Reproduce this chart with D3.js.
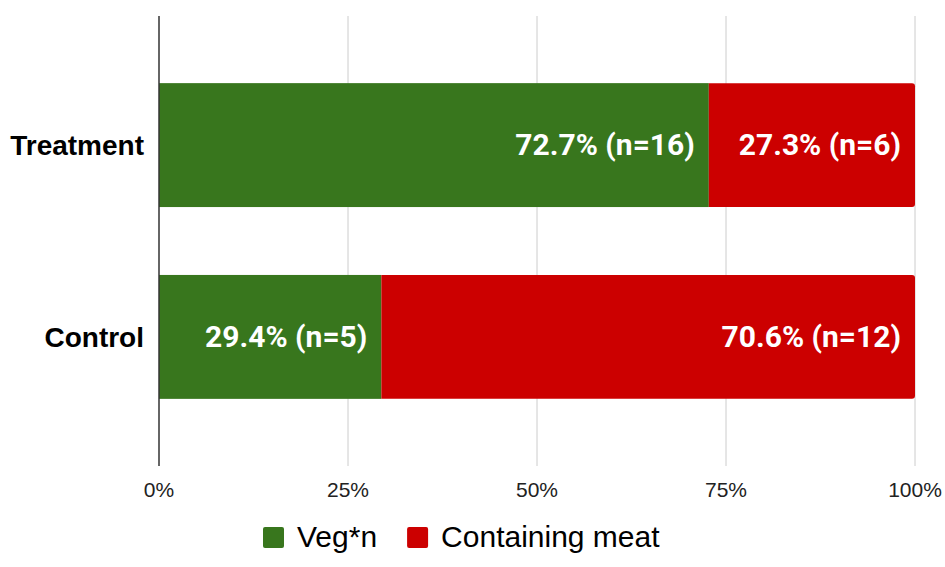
<!DOCTYPE html>
<html>
<head>
<meta charset="utf-8">
<script src="https://cdn.jsdelivr.net/npm/d3@7"></script>
<style>
  body { margin: 0; background: #fff; }
  svg { display: block; }
</style>
</head>
<body>
<svg id="chart" width="945" height="567"></svg>
<script>
// data
var categories = ['Treatment', 'Control'];
var seriesNames = ['Veg*n', 'Containing meat'];
var vegCounts = [16, 5];
var meatCounts = [6, 12];
var tickValues = [0, 0.25, 0.5, 0.75, 1];
var seriesColors = ['#38761d', '#cc0000'];

var svg = d3.select('#chart');

// plot box
var plotL = 159, plotR = 915, plotT = 16, plotB = 466;

var x = d3.scaleLinear().domain([0, 1]).range([plotL, plotR]);
var y = d3.scaleBand().domain(categories).range([plotT, plotB])
    .paddingInner(0.354).paddingOuter(0.35);

var rows = categories.map(function (c, i) {
    var total = vegCounts[i] + meatCounts[i];
    return { cat: c, veg: vegCounts[i] / total, meat: meatCounts[i] / total,
        vegN: vegCounts[i], meatN: meatCounts[i] };
});
var stacked = d3.stack().keys(['veg', 'meat'])(rows);

// grid
svg.append('g').selectAll('line')
    .data(tickValues.slice(1))
    .join('line')
    .attr('x1', function (d) { return x(d); })
    .attr('x2', function (d) { return x(d); })
    .attr('y1', plotT).attr('y2', plotB)
    .attr('stroke', '#cccccc').attr('stroke-width', 1);

// bars
var r = 3;
stacked.forEach(function (layer, k) {
    var g = svg.append('g').attr('fill', seriesColors[k]);
    layer.forEach(function (d) {
        var x0 = x(d[0]), x1 = x(d[1]);
        var y0 = y(d.data.cat), h = y.bandwidth();
        if (k === stacked.length - 1) {
            // rounded right end
            g.append('path').attr('d',
                'M' + x0 + ',' + y0 + ' H' + (x1 - r) +
                ' Q' + x1 + ',' + y0 + ' ' + x1 + ',' + (y0 + r) +
                ' V' + (y0 + h - r) +
                ' Q' + x1 + ',' + (y0 + h) + ' ' + (x1 - r) + ',' + (y0 + h) +
                ' H' + x0 + ' Z');
        } else {
            g.append('rect').attr('x', x0).attr('y', y0)
                .attr('width', x1 - x0).attr('height', h);
        }
        var n = k === 0 ? d.data.vegN : d.data.meatN;
        svg.append('text')
            .attr('x', x1 - 14)
            .attr('y', y0 + h / 2 + 10)
            .attr('text-anchor', 'end')
            .attr('fill', '#ffffff')
            .style('font-family', 'Roboto, sans-serif')
            .style('font-weight', 700)
            .style('font-size', '30px')
            .text(d3.format('.1%')(d[1] - d[0]) + ' (n=' + n + ')');
    });
});

// left axis line
svg.append('line')
    .attr('x1', plotL).attr('x2', plotL)
    .attr('y1', plotT).attr('y2', plotB)
    .attr('stroke', '#333333').attr('stroke-width', 1.5);

// category labels
svg.append('g').selectAll('text')
    .data(categories)
    .join('text')
    .attr('x', plotL - 15)
    .attr('y', function (d) { return y(d) + y.bandwidth() / 2 + 10; })
    .attr('text-anchor', 'end')
    .attr('fill', '#000')
    .style('font-family', '"Liberation Sans", Arial, sans-serif')
    .style('font-weight', 700)
    .style('font-size', '28px')
    .text(function (d) { return d; });

// x tick labels
svg.append('g').selectAll('text')
    .data(tickValues)
    .join('text')
    .attr('x', function (d) { return x(d); })
    .attr('y', 497)
    .attr('text-anchor', 'middle')
    .attr('fill', '#222')
    .style('font-family', '"Liberation Sans", Arial, sans-serif')
    .style('font-size', '21px')
    .text(d3.format('.0%'));

// legend
var lx = 263;
seriesNames.forEach(function (name, i) {
    svg.append('rect')
        .attr('x', lx).attr('y', 527)
        .attr('width', 21).attr('height', 21)
        .attr('rx', 2)
        .attr('fill', seriesColors[i]);
    var t = svg.append('text')
        .attr('x', lx + 34)
        .attr('y', 547)
        .attr('fill', '#000')
        .style('font-family', '"Liberation Sans", Arial, sans-serif')
        .style('font-size', '30px')
        .text(name);
    lx += 34 + t.node().getComputedTextLength() + 30;
});
</script>
</body>
</html>
